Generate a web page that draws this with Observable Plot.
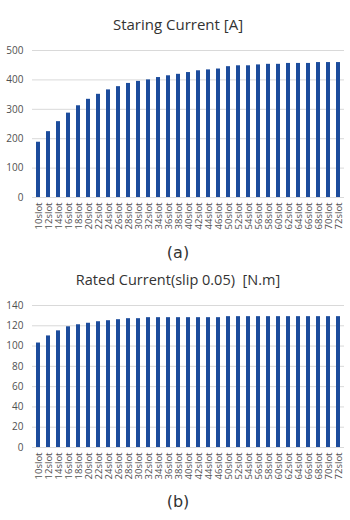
<!DOCTYPE html>
<html>
<head>
<meta charset="utf-8">
<script src="https://cdn.jsdelivr.net/npm/d3@7"></script>
<script src="https://cdn.jsdelivr.net/npm/@observablehq/plot@0.6"></script>
<style>
  html, body { margin: 0; padding: 0; background: #ffffff; }
  body { width: 350px; height: 520px; position: relative; overflow: hidden; font-family: "Open Sans", sans-serif; }
  .title { position: absolute; left: 0; width: 356px; text-align: center; font-size: 14.5px; color: #333333; line-height: 18px; }
  .cap { position: absolute; left: 0; width: 356px; text-align: center; font-family: "DejaVu Sans", sans-serif; font-size: 16px; color: #333; line-height: 20px; }
  .chart { position: absolute; left: 0; }
</style>
</head>
<body>
<div class="title" style="top:15px; font-size:15px">Staring Current [A]</div>
<div class="chart" id="c1" style="top:40px"></div>
<div class="cap" style="top:243px">(a)</div>
<div class="title" style="top:271px">Rated Current(slip 0.05)&nbsp;&nbsp;[N.m]</div>
<div class="chart" id="c2" style="top:295px"></div>
<div class="cap" style="top:492px">(b)</div>
<script>
const categories = ["10slot","12slot","14slot","16slot","18slot","20slot","22slot","24slot","26slot","28slot","30slot","32slot","34slot","36slot","38slot","40slot","42slot","44slot","46slot","50slot","52slot","54slot","56slot","58slot","60slot","62slot","64slot","66slot","68slot","70slot","72slot"];
const startingCurrent = [188,224,258,287,312,334,351,366,377,388,395,400,408,414,419,425,431,434,437,445,448,448,451,453,453,456,456,456,459,459,459];
const ratedCurrent = [103,110,115,119,121,122.5,124,125,126,127,127,128,128,128,128,128,128,128,128,129,129,129,129,129,129,129,129,129,129,129,129];
const ticksA = [0,100,200,300,400,500];
const ticksB = [0,20,40,60,80,100,120,140];

function makeChart(values, ticks, innerH) {
  const data = categories.map((c, i) => ({cat: c, v: values[i]}));
  return Plot.plot({
    width: 350,
    height: 10 + innerH + 40,
    marginTop: 10,
    marginBottom: 40,
    marginLeft: 32,
    marginRight: 6,
    style: {fontFamily: "Open Sans, sans-serif", background: "transparent", overflow: "visible"},
    x: {domain: categories, padding: 0, label: null},
    y: {domain: [0, ticks[ticks.length - 1]], label: null},
    marks: [
      Plot.gridY(ticks, {stroke: "#d9d9d9", strokeOpacity: 1, strokeWidth: 1}),
      Plot.barY(data, {x: "cat", y: "v", fill: "#1c4c9c", insetLeft: 3, insetRight: 3}),
      Plot.axisY(ticks, {tickSize: 0, tickPadding: 9, fontSize: 10, fill: "#505050", label: null}),
      Plot.axisX({tickSize: 0, tickPadding: 5, tickRotate: -90, fontSize: 9.5, fill: "#505050", label: null}),
      Plot.ruleY([0], {stroke: "#d9d9d9"})
    ]
  });
}

document.getElementById("c1").appendChild(makeChart(startingCurrent, ticksA, 147));
document.getElementById("c2").appendChild(makeChart(ratedCurrent, ticksB, 142));
</script>
</body>
</html>
